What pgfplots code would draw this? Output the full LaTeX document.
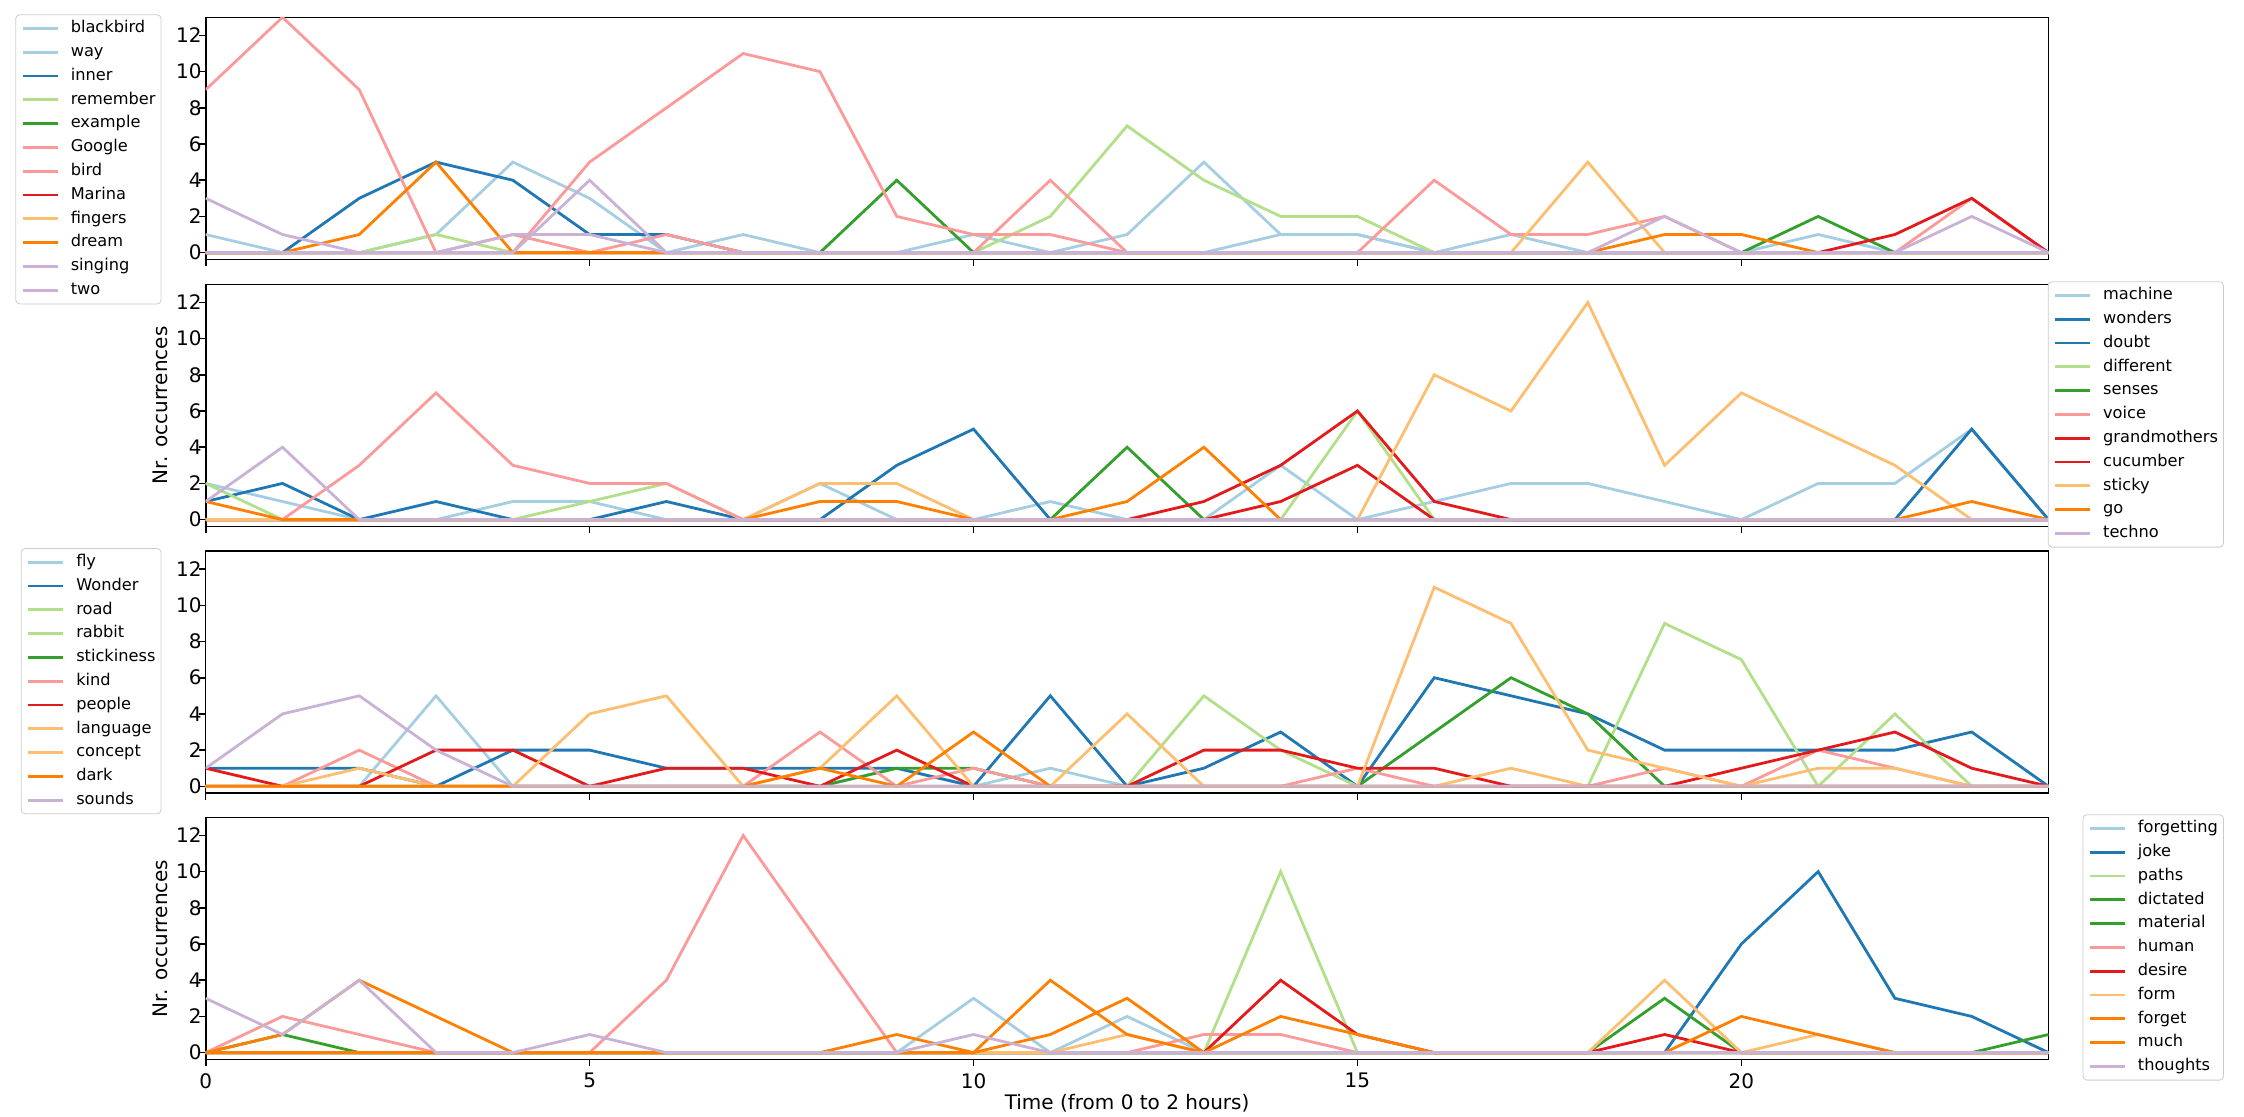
\documentclass[border=0pt]{standalone}
\usepackage{fontspec}
\setmainfont{DejaVu Sans}
\usepackage{pgfplots}
\pgfplotsset{compat=1.18}
\definecolor{cLB}{HTML}{A6CEE3}
\definecolor{cB}{HTML}{1F78B4}
\definecolor{cLG}{HTML}{B2DF8A}
\definecolor{cG}{HTML}{33A02C}
\definecolor{cPK}{HTML}{FB9A99}
\definecolor{cR}{HTML}{E31A1C}
\definecolor{cLO}{HTML}{FDBF6F}
\definecolor{cO}{HTML}{FF7F00}
\definecolor{cLP}{HTML}{CAB2D6}
\newcommand{\ser}[2]{\addplot[#1] table[row sep=\\, header=false, x expr=\coordindex, y index=0] {#2};}
\pgfplotsset{
  panel/.style={
    width=921.4pt, height=121pt, scale only axis,
    xmin=0, xmax=24, ymin=-0.37, ymax=13,
    xtick={0,5,10,15,20}, ytick={0,2,4,6,8,10,12},
    tick align=outside, xtick pos=left, ytick pos=left,
    major tick length=3.5pt,
    every tick/.style={black, line width=0.8pt},
    axis line style={line width=0.8pt},
    tick label style={font=\fontsize{10}{12}\selectfont},
    yticklabel style={xshift=5pt},
    /pgf/number format/assume math mode=true,
    label style={font=\fontsize{10}{12}\selectfont},
    every axis y label/.style={at={(axis description cs:-0.0248,0.5)}, rotate=90, anchor=center},
    every axis x label/.style={at={(axis description cs:0.5,-0.182)}, anchor=center},
    legend cell align=left,
    legend image code/.code={\draw[##1] (0pt,0pt) -- (17.5pt,0pt);},
    legend style={draw=black!20, rounded corners=2pt, fill=white,
      font=\fontsize{8.1}{9.7}\selectfont, inner xsep=2.8pt, inner ysep=3pt,
      row sep=4.2pt, nodes={inner sep=0pt, text height=6pt, text depth=1.7pt},
      /tikz/every odd column/.append style={column sep=5.8pt}},
    every axis plot/.append style={line width=1.4pt},
  },
  legleft/.style={legend style={at={(-0.024,1.0124)}, anchor=north east}},
  legright/.style={legend style={at={(1.0952,1.0124)}, anchor=north east}},
}
\begin{document}
\begin{tikzpicture}
\path[use as bounding box] (0,0) rectangle (1122pt,-558pt);
% Panel 1
\begin{axis}[panel, legleft, at={(102.85pt,-8.65pt)}, anchor=north west, xticklabels={},
  legend entries={blackbird,way,inner,remember,example,Google,bird,Marina,fingers,dream,singing,two}]
\ser{cLB}{1\\0\\0\\1\\5\\3\\0\\1\\0\\0\\1\\0\\1\\5\\1\\1\\0\\1\\0\\0\\0\\1\\0\\0\\0\\}
\ser{cLB}{0\\0\\0\\0\\0\\0\\0\\0\\0\\0\\0\\0\\0\\0\\1\\1\\0\\0\\0\\0\\0\\0\\0\\0\\0\\}
\ser{cB}{0\\0\\3\\5\\4\\1\\1\\0\\0\\0\\0\\0\\0\\0\\0\\0\\0\\0\\0\\0\\0\\0\\0\\0\\0\\}
\ser{cLG}{0\\0\\0\\1\\0\\0\\0\\0\\0\\0\\0\\2\\7\\4\\2\\2\\0\\0\\0\\0\\0\\0\\0\\0\\0\\}
\ser{cG}{0\\0\\0\\0\\0\\0\\0\\0\\0\\4\\0\\0\\0\\0\\0\\0\\0\\0\\0\\0\\0\\2\\0\\0\\0\\}
\ser{cPK}{9\\13\\9\\0\\1\\0\\1\\0\\0\\0\\0\\4\\0\\0\\0\\0\\4\\1\\1\\2\\0\\0\\0\\3\\0\\}
\ser{cPK}{0\\0\\0\\0\\0\\5\\8\\11\\10\\2\\1\\1\\0\\0\\0\\0\\0\\0\\0\\0\\0\\0\\0\\0\\0\\}
\ser{cR}{0\\0\\0\\0\\0\\0\\0\\0\\0\\0\\0\\0\\0\\0\\0\\0\\0\\0\\0\\0\\0\\0\\1\\3\\0\\}
\ser{cLO}{0\\0\\0\\0\\0\\0\\0\\0\\0\\0\\0\\0\\0\\0\\0\\0\\0\\0\\5\\0\\0\\0\\0\\0\\0\\}
\ser{cO}{0\\0\\1\\5\\0\\0\\0\\0\\0\\0\\0\\0\\0\\0\\0\\0\\0\\0\\0\\1\\1\\0\\0\\0\\0\\}
\ser{cLP}{3\\1\\0\\0\\1\\1\\0\\0\\0\\0\\0\\0\\0\\0\\0\\0\\0\\0\\0\\2\\0\\0\\0\\2\\0\\}
\ser{cLP}{0\\0\\0\\0\\0\\4\\0\\0\\0\\0\\0\\0\\0\\0\\0\\0\\0\\0\\0\\0\\0\\0\\0\\0\\0\\}
\end{axis}
% Panel 2
\begin{axis}[panel, legright, at={(102.85pt,-142.15pt)}, anchor=north west, xticklabels={},
  ylabel={Nr. occurrences},
  legend entries={machine,wonders,doubt,different,senses,voice,grandmothers,cucumber,sticky,go,techno}]
\ser{cLB}{2\\1\\0\\0\\1\\1\\0\\0\\2\\0\\0\\1\\0\\0\\3\\0\\1\\2\\2\\1\\0\\2\\2\\5\\0\\}
\ser{cB}{1\\2\\0\\1\\0\\0\\1\\0\\0\\3\\5\\0\\0\\0\\0\\0\\0\\0\\0\\0\\0\\0\\0\\0\\0\\}
\ser{cB}{0\\0\\0\\0\\0\\0\\0\\0\\0\\0\\0\\0\\0\\0\\0\\0\\0\\0\\0\\0\\0\\0\\0\\5\\0\\}
\ser{cLG}{2\\0\\0\\0\\0\\1\\2\\0\\0\\0\\0\\0\\0\\0\\0\\6\\0\\0\\0\\0\\0\\0\\0\\0\\0\\}
\ser{cG}{0\\0\\0\\0\\0\\0\\0\\0\\0\\0\\0\\0\\4\\0\\0\\0\\0\\0\\0\\0\\0\\0\\0\\0\\0\\}
\ser{cPK}{0\\0\\3\\7\\3\\2\\2\\0\\0\\0\\0\\0\\0\\0\\0\\0\\0\\0\\0\\0\\0\\0\\0\\0\\0\\}
\ser{cR}{0\\0\\0\\0\\0\\0\\0\\0\\0\\0\\0\\0\\0\\1\\3\\6\\1\\0\\0\\0\\0\\0\\0\\0\\0\\}
\ser{cR}{0\\0\\0\\0\\0\\0\\0\\0\\0\\0\\0\\0\\0\\0\\1\\3\\0\\0\\0\\0\\0\\0\\0\\0\\0\\}
\ser{cLO}{0\\0\\0\\0\\0\\0\\0\\0\\2\\2\\0\\0\\0\\0\\0\\0\\8\\6\\12\\3\\7\\5\\3\\0\\0\\}
\ser{cO}{1\\0\\0\\0\\0\\0\\0\\0\\1\\1\\0\\0\\1\\4\\0\\0\\0\\0\\0\\0\\0\\0\\0\\1\\0\\}
\ser{cLP}{1\\4\\0\\0\\0\\0\\0\\0\\0\\0\\0\\0\\0\\0\\0\\0\\0\\0\\0\\0\\0\\0\\0\\0\\0\\}
\end{axis}
% Panel 3
\begin{axis}[panel, legleft, at={(102.85pt,-275.5pt)}, anchor=north west, xticklabels={},
  legend entries={fly,Wonder,road,rabbit,stickiness,kind,people,language,concept,dark,sounds}]
\ser{cLB}{0\\0\\0\\5\\0\\0\\0\\0\\0\\1\\0\\1\\0\\0\\0\\0\\0\\0\\0\\0\\0\\0\\0\\0\\0\\}
\ser{cB}{1\\1\\1\\0\\2\\2\\1\\1\\1\\1\\0\\5\\0\\1\\3\\0\\6\\5\\4\\2\\2\\2\\2\\3\\0\\}
\ser{cLG}{0\\0\\0\\0\\0\\0\\0\\0\\0\\0\\0\\0\\0\\5\\2\\0\\0\\0\\0\\0\\0\\0\\0\\0\\0\\}
\ser{cLG}{0\\0\\0\\0\\0\\0\\0\\0\\0\\0\\0\\0\\0\\0\\0\\0\\0\\0\\0\\9\\7\\0\\4\\0\\0\\}
\ser{cG}{0\\0\\0\\0\\0\\0\\0\\0\\0\\1\\1\\0\\0\\0\\0\\0\\3\\6\\4\\0\\0\\0\\0\\0\\0\\}
\ser{cPK}{0\\0\\2\\0\\0\\0\\0\\0\\3\\0\\1\\0\\0\\0\\0\\1\\0\\0\\0\\1\\0\\2\\1\\0\\0\\}
\ser{cR}{1\\0\\0\\2\\2\\0\\1\\1\\0\\2\\0\\0\\0\\2\\2\\1\\1\\0\\0\\0\\1\\2\\3\\1\\0\\}
\ser{cLO}{0\\0\\1\\0\\0\\4\\5\\0\\1\\5\\0\\0\\4\\0\\0\\0\\11\\9\\2\\1\\0\\0\\0\\0\\0\\}
\ser{cLO}{0\\0\\0\\0\\0\\0\\0\\0\\0\\0\\0\\0\\0\\0\\0\\0\\0\\1\\0\\0\\0\\1\\1\\0\\0\\}
\ser{cO}{0\\0\\0\\0\\0\\0\\0\\0\\1\\0\\3\\0\\0\\0\\0\\0\\0\\0\\0\\0\\0\\0\\0\\0\\0\\}
\ser{cLP}{1\\4\\5\\2\\0\\0\\0\\0\\0\\0\\0\\0\\0\\0\\0\\0\\0\\0\\0\\0\\0\\0\\0\\0\\0\\}
\end{axis}
% Panel 4
\begin{axis}[panel, legright, at={(102.85pt,-408.65pt)}, anchor=north west,
  ylabel={Nr. occurrences}, xlabel={Time (from 0 to 2 hours)},
  legend entries={forgetting,joke,paths,dictated,material,human,desire,form,forget,much,thoughts}]
\ser{cLB}{0\\0\\0\\0\\0\\0\\0\\0\\0\\0\\3\\0\\2\\0\\0\\0\\0\\0\\0\\0\\0\\0\\0\\0\\0\\}
\ser{cB}{0\\0\\0\\0\\0\\0\\0\\0\\0\\0\\0\\0\\0\\0\\0\\0\\0\\0\\0\\0\\6\\10\\3\\2\\0\\}
\ser{cLG}{0\\0\\0\\0\\0\\0\\0\\0\\0\\0\\0\\0\\0\\0\\10\\0\\0\\0\\0\\0\\0\\0\\0\\0\\0\\}
\ser{cG}{0\\1\\0\\0\\0\\0\\0\\0\\0\\0\\0\\0\\0\\0\\0\\0\\0\\0\\0\\3\\0\\0\\0\\0\\0\\}
\ser{cG}{0\\0\\0\\0\\0\\0\\0\\0\\0\\0\\0\\0\\0\\0\\0\\0\\0\\0\\0\\0\\0\\0\\0\\0\\1\\}
\ser{cPK}{0\\2\\1\\0\\0\\0\\4\\12\\6\\0\\0\\0\\0\\1\\1\\0\\0\\0\\0\\0\\0\\0\\0\\0\\0\\}
\ser{cR}{0\\0\\0\\0\\0\\0\\0\\0\\0\\0\\0\\0\\0\\0\\4\\1\\0\\0\\0\\1\\0\\0\\0\\0\\0\\}
\ser{cLO}{0\\0\\0\\0\\0\\0\\0\\0\\0\\0\\0\\0\\1\\0\\0\\0\\0\\0\\0\\4\\0\\1\\0\\0\\0\\}
\ser{cO}{0\\1\\4\\2\\0\\0\\0\\0\\0\\1\\0\\4\\1\\0\\2\\1\\0\\0\\0\\0\\2\\1\\0\\0\\0\\}
\ser{cO}{0\\0\\0\\0\\0\\0\\0\\0\\0\\0\\0\\1\\3\\0\\0\\0\\0\\0\\0\\0\\0\\0\\0\\0\\0\\}
\ser{cLP}{3\\1\\4\\0\\0\\1\\0\\0\\0\\0\\1\\0\\0\\0\\0\\0\\0\\0\\0\\0\\0\\0\\0\\0\\0\\}
\end{axis}
\end{tikzpicture}
\end{document}
